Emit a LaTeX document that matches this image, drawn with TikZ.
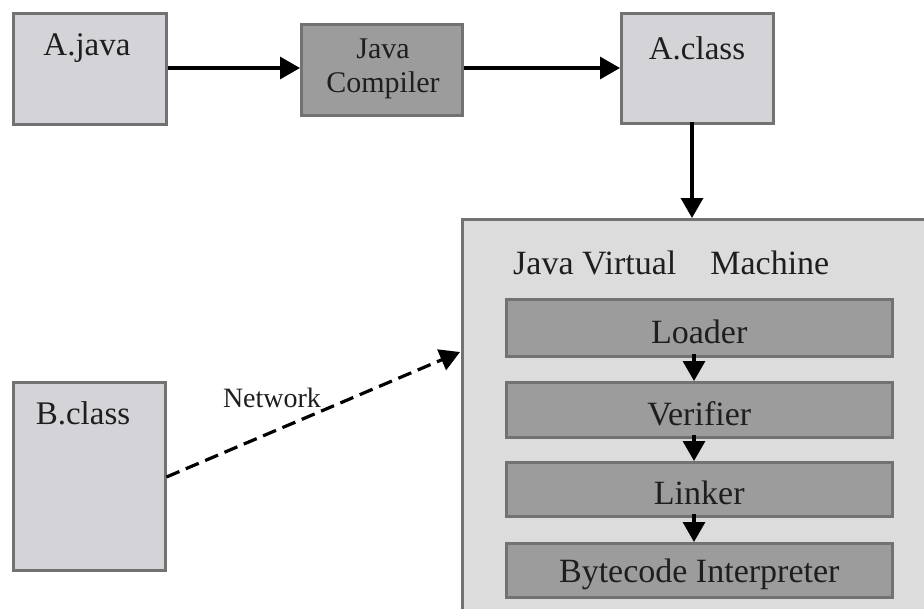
\documentclass[tikz,border=0pt]{standalone}
\usepackage{fontspec}
\setmainfont{Liberation Serif}
\usetikzlibrary{arrows.meta}
\definecolor{lightbox}{HTML}{D4D3D7}
\definecolor{darkbox}{HTML}{9C9C9C}
\definecolor{jvmbg}{HTML}{DCDCDC}
\definecolor{edge}{HTML}{727272}
\definecolor{txt}{HTML}{1E1E1E}
\tikzset{
  lbox/.style={draw=edge, line width=2.5pt, fill=lightbox, anchor=north west, inner sep=0pt},
  dbox/.style={draw=edge, line width=2.5pt, fill=darkbox, anchor=north west, inner sep=0pt},
  lab/.style={text=txt, font=\fontsize{34}{38}\selectfont, inner sep=0pt},
  conn/.style={line width=3.2pt, -{Triangle[length=20pt,width=22pt]}},
  sconn/.style={line width=3.2pt, -{Triangle[length=20pt,width=22pt]}},
}
\begin{document}
\begin{tikzpicture}[x=1pt,y=-1pt]
\useasboundingbox (0,0) rectangle (924,608);
\clip (0,0) rectangle (924,608);
% top row
\node[lbox, minimum width=153pt, minimum height=111pt] (ajava) at (12,12) {};
\node[lab, font=\fontsize{33}{38}\selectfont] (ajavat) at (87,48) {A.java};
\node[dbox, minimum width=161pt, minimum height=91pt] (comp) at (300,23) {};
\node[lab, font=\fontsize{30}{34}\selectfont, align=center] (compt) at (383,69) {Java\\Compiler};
\node[lbox, minimum width=152pt, minimum height=110pt] (aclass) at (620,12) {};
\node[lab, font=\fontsize{33}{38}\selectfont] (aclasst) at (697,48) {A.class};
% JVM
\node[lbox, fill=jvmbg, minimum width=480pt, minimum height=410pt] (jvm) at (461,218) {};
\node[lab, anchor=west] (jvmt) at (513,263) {Java Virtual\hspace{1em}Machine};
\node[dbox, minimum width=386pt, minimum height=57pt] (loader) at (505,298) {};
\node[lab] at ([yshift=-4pt]loader.center) {Loader};
\node[dbox, minimum width=386pt, minimum height=55pt] (verifier) at (505,381) {};
\node[lab] at ([yshift=-4pt]verifier.center) {Verifier};
\node[dbox, minimum width=386pt, minimum height=54pt] (linker) at (505,461) {};
\node[lab] at ([yshift=-4pt]linker.center) {Linker};
\node[dbox, minimum width=386pt, minimum height=54pt] (interp) at (505,542) {};
\node[lab] at ([yshift=-4pt]interp.center) {Bytecode Interpreter};
% B.class
\node[lbox, minimum width=152pt, minimum height=188pt] (bclass) at (12,381) {};
\node[lab, font=\fontsize{33}{38}\selectfont] (bclasst) at (83,413) {B.class};
% connectors
\draw[conn] (ajava.east |- 0,68) -- (comp.west |- 0,68);
\draw[conn] (comp.east |- 0,68) -- (aclass.west |- 0,68);
\draw[conn] (692,122) -- (692,218);
\draw[sconn] (694,354) -- (694,381);
\draw[sconn] (694,435) -- (694,461);
\draw[sconn] (694,514) -- (694,542);
\coordinate (netend) at (460,352);
\draw[conn, dash pattern=on 14pt off 7pt] (bclass.east |- 0,477) -- (netend);
\node[lab, font=\fontsize{28}{32}\selectfont] (net) at (272,398) {Network};
\end{tikzpicture}
\end{document}
